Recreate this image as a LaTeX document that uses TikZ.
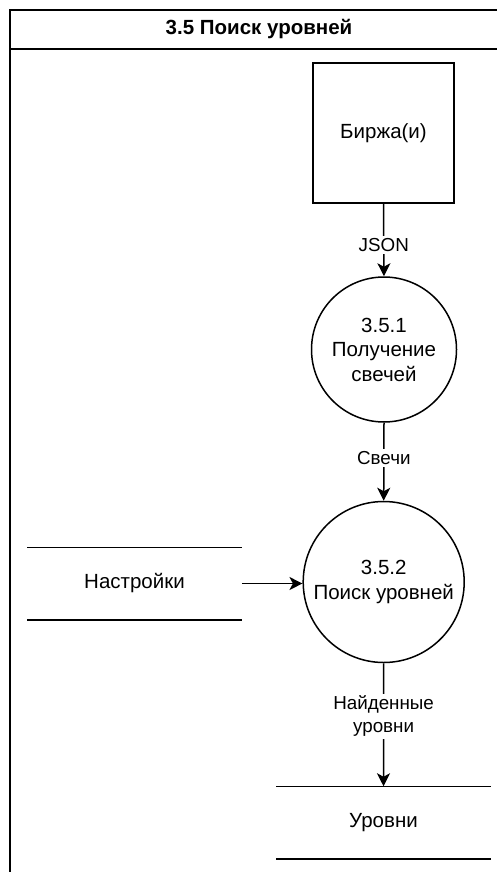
\documentclass[tikz,border=0pt]{standalone}
\usepackage{fontspec}
\setmainfont{Liberation Sans}
\usetikzlibrary{arrows.meta}
\begin{document}
\begin{tikzpicture}[x=1pt,y=-1pt,
  line width=1.5pt,
  txt/.style={font=\fontsize{20.5}{24.5}\selectfont, align=center, inner sep=0pt},
  lbl/.style={font=\fontsize{18.8}{23}\selectfont, align=center, fill=white, inner sep=2pt},
  entity/.style={txt, draw, minimum width=141pt, minimum height=140pt},
  process/.style={txt, circle, draw},
  store/.style={txt, minimum width=213pt, minimum height=71pt},
  flow/.style={-{Stealth[length=13pt,width=13pt,inset=3.5pt]}}
]
\useasboundingbox (0,0) rectangle (497,872);
% frame with title bar
\draw (10,10) rectangle (508,900);
\draw (10,49) -- (508,49);
\node[txt, font=\bfseries\fontsize{20.5}{24}\selectfont] (title) at (259,29.5) {3.5 Поиск уровней};

% external entity and processes
\node[entity] (ext) at (383.5,133) {Биржа(и)};
\node[process, minimum size=145pt] (p1) at (384,349.5) {3.5.1\\Получение\\свечей};
\node[process, minimum size=161pt] (p2) at (383.7,582) {3.5.2\\Поиск уровней};

% data stores
\node[store] (cfg) at (134.5,583.5) {Настройки};
\draw (cfg.north west) -- (cfg.north east);
\draw (cfg.south west) -- (cfg.south east);
\node[store] (lv) at (383.5,822.5) {Уровни};
\draw (lv.north west) -- (lv.north east);
\draw (lv.south west) -- (lv.south east);

% data flows
\draw[flow] (ext.south) -- node[lbl, pos=0.57] (l1) {JSON} (p1.north);
\draw[flow] (p1.south) -- node[lbl, pos=0.45] (l2) {Свечи} (p2.north);
\draw[flow] (cfg.east) -- (cfg.east -| p2.west);
\draw[flow] (p2.south) -- node[lbl, pos=0.43] (l3) {Найденные\\уровни} (lv.north);
\end{tikzpicture}
\end{document}
